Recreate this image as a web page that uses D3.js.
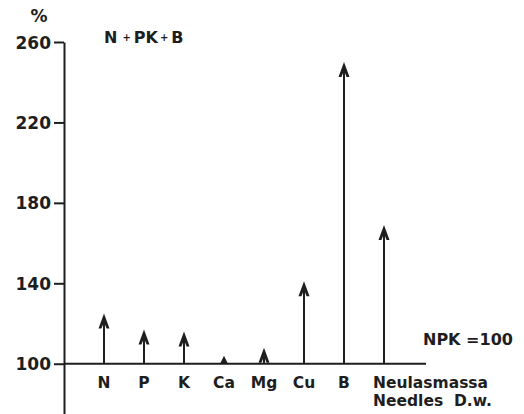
<!DOCTYPE html>
<html>
<head>
<meta charset="utf-8">
<script src="https://cdn.jsdelivr.net/npm/d3@7"></script>
<style>
  body { margin: 0; background: #fff; }
  text { font-family: "DejaVu Sans", Arial, sans-serif; font-weight: bold; fill: #1e1e1e; }
</style>
</head>
<body>
<div id="chart"></div>
<script>
    var width = 524;
    var height = 414;

    // relative values, NPK = 100
    var categories = ["N", "P", "K", "Ca", "Mg", "Cu", "B", "Neulasmassa"];
    var values = [125, 117, 116, 104, 108, 141, 250, 169];
    var tickValues = [100, 140, 180, 220, 260];

    var svg = d3.select("#chart")
          .append("svg")
          .attr("width", width)
          .attr("height", height);

    var y = d3.scaleLinear().domain([75, 260]).range([414, 42]);
    var x = d3.scalePoint().domain(categories).range([104, 384]);

    var axisX = 64;

    var yAxis = d3.axisLeft(y)
      .tickValues(tickValues)
      .tickSize(10)
      .tickPadding(3)
      .tickSizeOuter(0);

    var ax = svg.append("g")
      .attr("transform", "translate(" + axisX + ",0)")
      .call(yAxis);

    ax.select(".domain").attr("stroke", "#1e1e1e").attr("stroke-width", 2);
    ax.selectAll(".tick line").attr("stroke", "#1e1e1e").attr("stroke-width", 2);
    ax.selectAll(".tick text")
      .attr("font-size", 17)
      .attr("fill", "#1e1e1e")
      .attr("dy", "0.36em")
      .style("font-family", "'DejaVu Sans', Arial, sans-serif")
      .style("font-weight", "bold");

    // baseline at 100
    svg.append("line")
      .attr("x1", axisX)
      .attr("x2", 426)
      .attr("y1", y(100))
      .attr("y2", y(100))
      .attr("stroke", "#1e1e1e")
      .attr("stroke-width", 2);

    var arrows = svg.append("g").selectAll("g")
      .data(categories.map(function(c, i){ return {name: c, value: values[i]}; }))
      .enter()
      .append("g")
      .attr("transform", function(d){ return "translate(" + x(d.name) + ",0)"; });

    arrows.append("line")
      .attr("x1", 0).attr("x2", 0)
      .attr("y1", y(100))
      .attr("y2", function(d){ return y(d.value) + 4; })
      .attr("stroke", "#1e1e1e")
      .attr("stroke-width", 2);

    arrows.append("path")
      .attr("fill", "#1e1e1e")
      .attr("d", function(d){
        var t = y(d.value);
        var h = Math.min(15, y(100) - t);
        var w = h < 15 ? 4 : 5.5;
        return "M0," + t + "L" + w + "," + (t + h) + "L" + (w - 3) + "," + (t + h) +
          "L0," + (t + h * 0.55) + "L" + (3 - w) + "," + (t + h) + "L" + (-w) + "," + (t + h) + "Z";
      });

    // category labels
    svg.append("g").selectAll("text")
      .data(categories)
      .enter()
      .append("text")
      .attr("x", function(d){ return d == "Neulasmassa" ? 373 : x(d); })
      .attr("y", 388)
      .attr("font-size", 15.5)
      .attr("text-anchor", function(d){ return d == "Neulasmassa" ? "start" : "middle"; })
      .text(function(d){ return d; });

    svg.append("text")
      .attr("x", 373)
      .attr("y", 406)
      .attr("font-size", 15.5)
      .attr("xml:space", "preserve")
      .text("Needles  D.w.");

    svg.append("text")
      .attr("x", 423)
      .attr("y", 345)
      .attr("font-size", 16)
      .text("NPK =100");

    var title = svg.append("text")
      .attr("x", 104)
      .attr("y", 43)
      .attr("font-size", 16);
    title.append("tspan").text("N");
    title.append("tspan").attr("font-size", 10).attr("dx", 5).attr("dy", -2).text("+");
    title.append("tspan").attr("dx", 3).attr("dy", 2).text("PK");
    title.append("tspan").attr("font-size", 10).attr("dx", 2).attr("dy", -2).text("+");
    title.append("tspan").attr("dx", 3).attr("dy", 2).text("B");

    svg.append("text")
      .attr("x", 39)
      .attr("y", 22)
      .attr("font-size", 17)
      .attr("text-anchor", "middle")
      .text("%");
</script>
</body>
</html>
